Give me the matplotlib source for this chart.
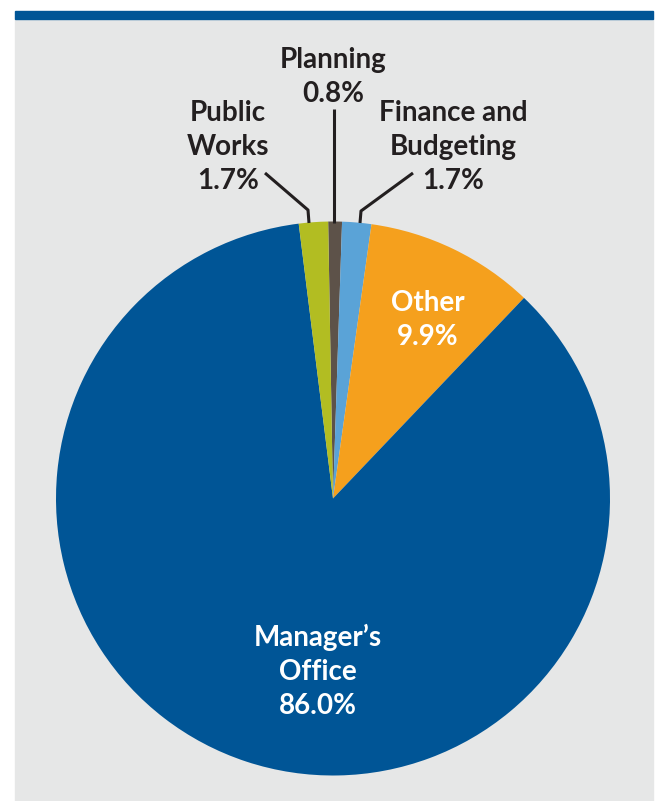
import matplotlib.pyplot as plt
from matplotlib.patches import Rectangle

# slices, clockwise from just left of 12 o'clock
departments = ["Planning", "Finance and Budgeting", "Other", "Manager's Office", "Public Works"]
shares = [0.8, 1.7, 9.9, 86.0, 1.7]
colors = ["#5d5249", "#5aa3d7", "#f5a01d", "#005596", "#b2bd22"]

W, H = 655, 801
fig = plt.figure(figsize=(W / 100, H / 100), dpi=100)
ax = fig.add_axes([0, 0, 1, 1])

def Y(y):
    # image row -> axes y
    return H - y

# panel and top bar
ax.add_patch(Rectangle((14.5, 0), 638.5, Y(19), color="#e6e7e7", zorder=0))
ax.add_patch(Rectangle((14.5, Y(19)), 638.5, 8.5, color="#005596", zorder=0))

cx, cy, r = 333, Y(498.5), 277
ax.pie(shares, colors=colors, startangle=91, counterclock=False,
       center=(cx, cy), radius=r, frame=True,
       wedgeprops=dict(linewidth=0))
ax.set_xlim(0, W)
ax.set_ylim(0, H)
ax.set_aspect("equal")
ax.axis("off")

font = dict(family=["Lato", "DejaVu Sans"], fontweight="bold", fontsize=20,
            ha="center", va="center", linespacing=1.38)
dark = "#231f20"

ax.text(333, Y(77), "Planning\n%.1f%%" % shares[0], color=dark, **font)
ax.text(228, Y(147), "Public\nWorks\n%.1f%%" % shares[4], color=dark, **font)
ax.text(453, Y(147), "Finance and\nBudgeting\n%.1f%%" % shares[1], color=dark, **font)
ax.text(428, Y(320), "Other\n%.1f%%" % shares[2], color="white", **font)
ax.text(318, Y(671), "Manager\u2019s\nOffice\n%.1f%%" % shares[3], color="white", **font)

# leader lines
lw = 2.2
ax.plot([333.5, 333.5], [Y(109), Y(223)], color=dark, lw=lw, solid_capstyle="butt")
ax.plot([265, 308, 309], [Y(173), Y(210), Y(223)], color=dark, lw=lw, solid_capstyle="butt")
ax.plot([413, 361, 360], [Y(173), Y(211), Y(223)], color=dark, lw=lw, solid_capstyle="butt")

fig.savefig("out.png", dpi=100, facecolor="white")
